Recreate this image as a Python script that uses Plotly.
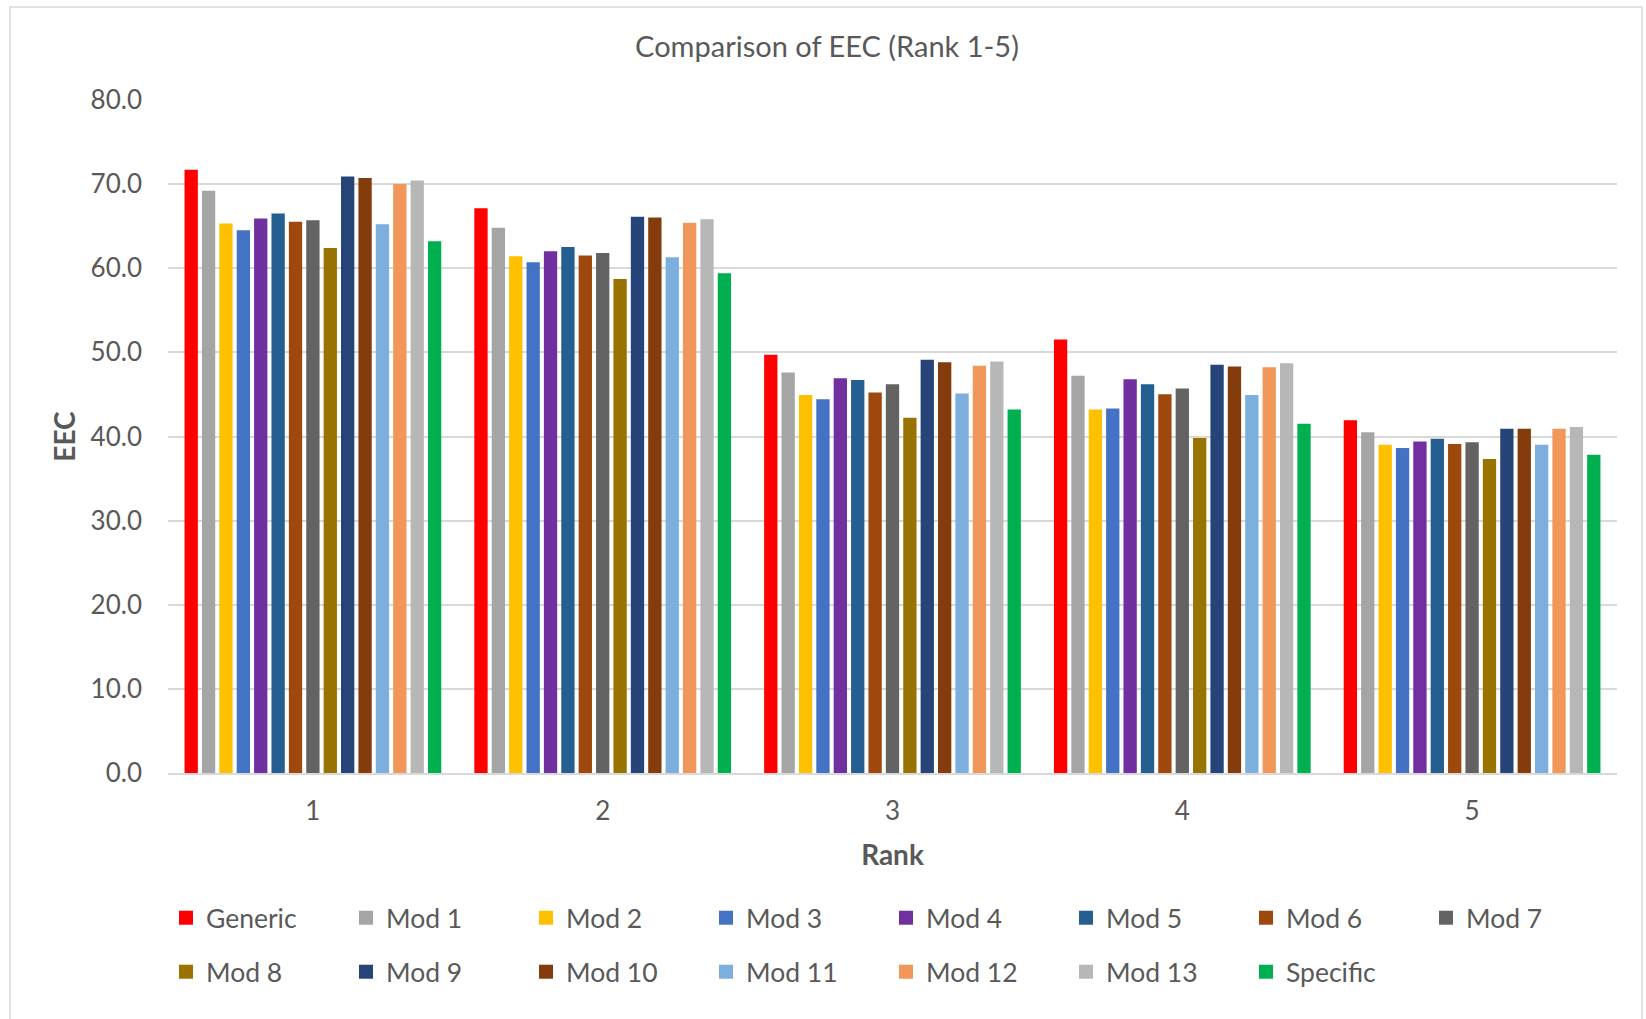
import plotly.graph_objects as go

ranks = ["1", "2", "3", "4", "5"]
series_names = ["Generic", "Mod 1", "Mod 2", "Mod 3", "Mod 4", "Mod 5", "Mod 6", "Mod 7",
                "Mod 8", "Mod 9", "Mod 10", "Mod 11", "Mod 12", "Mod 13", "Specific"]

generic = [71.6, 67.0, 49.6, 51.4, 41.8]
mod1 = [69.1, 64.7, 47.5, 47.1, 40.4]
mod2 = [65.2, 61.3, 44.8, 43.1, 38.9]
mod3 = [64.4, 60.6, 44.3, 43.2, 38.5]
mod4 = [65.8, 61.9, 46.8, 46.7, 39.3]
mod5 = [66.4, 62.4, 46.6, 46.1, 39.6]
mod6 = [65.4, 61.4, 45.1, 44.9, 39.0]
mod7 = [65.6, 61.7, 46.1, 45.6, 39.2]
mod8 = [62.3, 58.6, 42.1, 39.7, 37.2]
mod9 = [70.8, 66.0, 49.0, 48.4, 40.8]
mod10 = [70.6, 65.9, 48.7, 48.2, 40.8]
mod11 = [65.1, 61.2, 45.0, 44.8, 38.9]
mod12 = [69.9, 65.3, 48.3, 48.1, 40.8]
mod13 = [70.3, 65.7, 48.8, 48.6, 41.0]
specific = [63.1, 59.3, 43.1, 41.4, 37.7]

series_values = [generic, mod1, mod2, mod3, mod4, mod5, mod6, mod7,
                 mod8, mod9, mod10, mod11, mod12, mod13, specific]

colors = ["#FF0000", "#A5A5A5", "#FFC000", "#4472C4", "#7030A0", "#255E91", "#9E480E",
          "#636363", "#997300", "#264478", "#843C0C", "#7CAFDD", "#F1975A", "#B7B7B7",
          "#00B050"]

y_ticks = [0, 10, 20, 30, 40, 50, 60, 70, 80]

FONT = "Lato"
TXT = "#595959"

fig = go.Figure()
for i, (name, vals, col) in enumerate(zip(series_names, series_values, colors)):
    fig.add_trace(go.Bar(
        x=ranks, y=vals, name=name,
        marker=dict(color=col, line=dict(width=2, color=col)),
        showlegend=False,
    ))
# legend entries (square keys like the original)
for i, (name, col) in enumerate(zip(series_names, colors)):
    fig.add_trace(go.Scatter(
        x=[None], y=[None], name=name, mode="markers",
        marker=dict(symbol="square", size=14, color=col),
        legend="legend" if i < 8 else "legend2",
        hoverinfo="skip",
    ))

W, H = 1646, 1019
L, R, T, B = 168, 29, 100, 246
pw, ph = W - L - R, H - T - B

def px_x(x):
    return (x - L) / pw

def px_y(y):
    return (H - B - y) / ph

leg_common = dict(
    orientation="h",
    font=dict(family=FONT, size=26.5, color=TXT),
    entrywidth=135, entrywidthmode="pixels",
    bgcolor="rgba(0,0,0,0)",
    xanchor="left", yanchor="middle",
    itemclick=False, itemdoubleclick=False,
)

fig.update_layout(
    width=W, height=H,
    margin=dict(l=L, r=R, t=T, b=B, autoexpand=False),
    paper_bgcolor="white", plot_bgcolor="white",
    barmode="group", bargap=0.1, bargroupgap=0.35,
    font=dict(family=FONT, color=TXT),
    title=dict(text="Comparison of EEC (Rank 1-5)", x=0.5 + 4 / W, xref="container",
               y=1 - 47 / H, yanchor="middle",
               font=dict(family=FONT, size=29, color=TXT)),
    xaxis=dict(
        type="category",
        title=dict(text="<b>Rank</b>", font=dict(family=FONT, size=28, color=TXT), standoff=20),
        tickfont=dict(family=FONT, size=26, color=TXT),
        ticklabelstandoff=14,
        showline=True, linecolor="#D9D9D9", linewidth=1.5,
        ticks="", showgrid=False,
    ),
    yaxis=dict(
        range=[0, 80],
        tickvals=y_ticks,
        ticktext=[f"{v:.1f}" for v in y_ticks],
        tickfont=dict(family=FONT, size=26, color=TXT),
        ticklabelstandoff=25,
        title=dict(text="<b>EEC</b>", font=dict(family=FONT, size=28, color=TXT), standoff=6),
        showgrid=True, gridcolor="#D9D9D9", gridwidth=1.5,
        zeroline=False, ticks="", ticklen=0,
    ),
    legend=dict(leg_common, x=px_x(166), y=px_y(918)),
    legend2=dict(leg_common, x=px_x(166), y=px_y(972)),
    shapes=[dict(type="rect", xref="paper", yref="paper",
                 x0=px_x(10), x1=px_x(1642), y0=px_y(1030), y1=px_y(7),
                 line=dict(color="#D9D9D9", width=1.5), fillcolor="rgba(0,0,0,0)", layer="below")],
)

fig.write_html("out.html", config={"displayModeBar": False},
               post_script="document.body.style.margin='0';document.body.style.overflow='hidden';")
